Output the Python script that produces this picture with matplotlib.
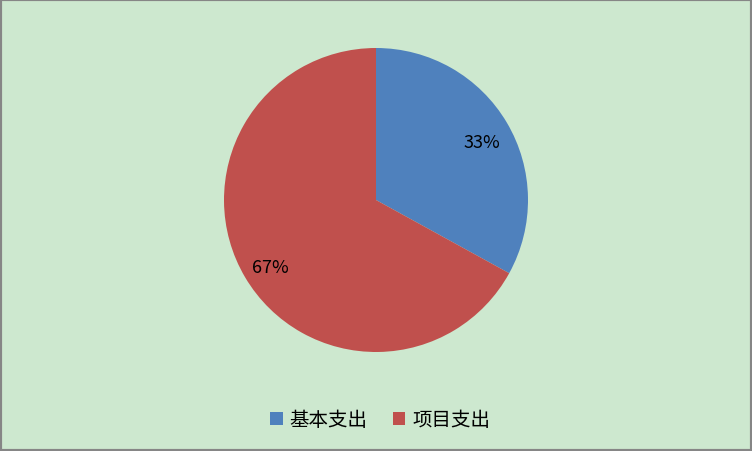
import matplotlib.pyplot as plt
from matplotlib.patches import Rectangle

plt.rcParams['font.family'] = ['Noto Sans CJK SC', 'DejaVu Sans']

# datos del grafico
categories = ['基本支出', '项目支出']
values = [33, 67]
colors = ['#4F81BD', '#C0504D']

W, H = 752, 452
fig = plt.figure(figsize=(W / 100, H / 100), dpi=100)
fig.patch.set_facecolor('#CDE8CF')

# marco gris alrededor
fig.patches.append(Rectangle((0, 0), 1, 1, transform=fig.transFigure, fill=False,
                             edgecolor='#868686', linewidth=3, zorder=10))

cx, cy, r = 376, 201, 152
ax = fig.add_axes([(cx - r) / W, (H - cy - r) / H, 2 * r / W, 2 * r / H])
ax.set_facecolor('none')

wedges, texts, autotexts = ax.pie(values, colors=colors, startangle=90, counterclock=False,
                                  autopct='%1.0f%%', pctdistance=0.81,
                                  wedgeprops=dict(linewidth=0),
                                  textprops=dict(fontsize=13, color='black'))
# bajar un poco las etiquetas como en el original
for t in autotexts:
    x, y = t.get_position()
    t.set_position((x, y - 0.03))
ax.set_aspect('equal')
ax.set_xlim(-1, 1)
ax.set_ylim(-1, 1)

fig.legend(wedges, categories, loc='center', bbox_to_anchor=(380 / W, 1 - 421 / H),
           ncol=2, frameon=False, fontsize=14, handlelength=0.65, handleheight=0.65,
           handletextpad=0.35, columnspacing=1.3)

fig.savefig('out.png', dpi=100, facecolor=fig.get_facecolor())
